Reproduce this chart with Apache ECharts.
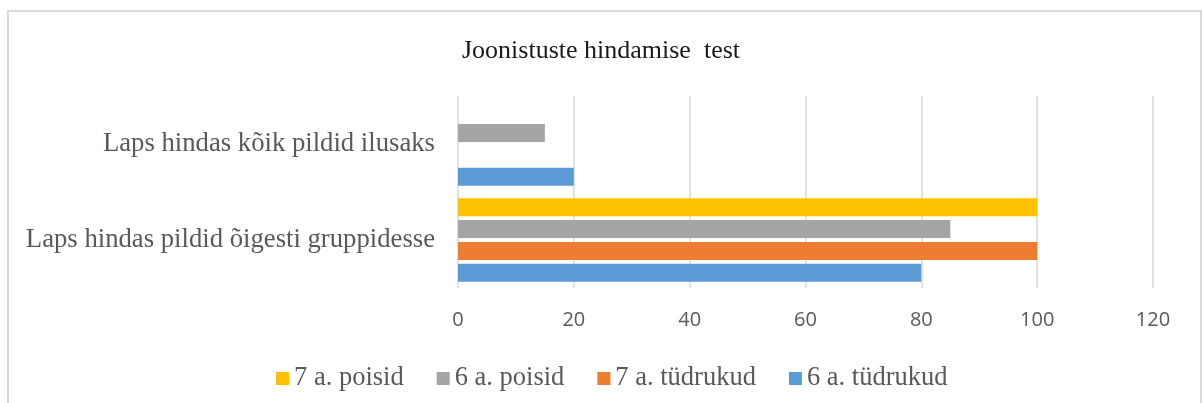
<!DOCTYPE html>
<html>
<head>
<meta charset="utf-8">
<script src="https://cdn.jsdelivr.net/npm/echarts@6/dist/echarts.min.js"></script>
<style>
    html, body { margin: 0; padding: 0; background: #fff; }
    #chart { width: 1202px; height: 403px; }
</style>
</head>
<body>
<div id="chart"></div>
<script>
// Data
const categories = ['Laps hindas pildid õigesti gruppidesse', 'Laps hindas kõik pildid ilusaks'];
const seriesNames = ['7 a. poisid', '6 a. poisid', '7 a. tüdrukud', '6 a. tüdrukud'];
const boys7 = [100, 0];
const boys6 = [85, 15];
const girls7 = [100, 0];
const girls6 = [80, 20];
const xTicks = [0, 20, 40, 60, 80, 100, 120];

const colors = ['#ffc000', '#a5a5a5', '#ed7d31', '#5b9bd5'];
const serif = '"Liberation Serif", "Times New Roman", serif';

const chart = echarts.init(document.getElementById('chart'));

const barBase = {
    type: 'bar',
    barWidth: 18,
    barGap: '21%'
};

const options = {
    backgroundColor: '#fff',
    animation: false,
    color: colors,
    graphic: [
        {
            type: 'rect',
            shape: { x: 8, y: 11, width: 1193, height: 400 },
            style: { fill: 'none', stroke: '#d9d9d9', lineWidth: 2 },
            silent: true
        }
    ],
    title: {
        text: 'Joonistuste hindamise  test',
        left: 'center',
        top: 33,
        textStyle: {
            fontFamily: serif,
            fontSize: 26,
            fontWeight: 'normal',
            color: '#1a1a1a'
        }
    },
    legend: {
        data: seriesNames,
        left: 271,
        top: 360,
        icon: 'rect',
        itemWidth: 13,
        itemHeight: 13,
        itemGap: 33,
        textStyle: {
            fontFamily: serif,
            fontSize: 26.5,
            color: '#595959'
        }
    },
    grid: {
        left: 458,
        right: 49,
        top: 96,
        bottom: 115
    },
    xAxis: {
        type: 'value',
        min: xTicks[0],
        max: xTicks[xTicks.length - 1],
        interval: 20,
        axisLine: { show: false },
        axisTick: { show: false },
        splitLine: {
            show: true,
            lineStyle: { color: '#d9d9d9', width: 1.5 }
        },
        axisLabel: {
            margin: 22,
            fontFamily: '"Open Sans", sans-serif',
            fontSize: 20,
            color: '#595959'
        }
    },
    yAxis: {
        type: 'category',
        data: categories,
        axisLine: { show: false },
        axisTick: { show: false },
        splitLine: { show: false },
        axisLabel: {
            margin: 23,
            fontFamily: serif,
            fontSize: 26.7,
            color: '#595959'
        }
    },
    series: [
        { ...barBase, name: seriesNames[0], data: boys7 },
        { ...barBase, name: seriesNames[1], data: boys6 },
        { ...barBase, name: seriesNames[2], data: girls7 },
        { ...barBase, name: seriesNames[3], data: girls6 }
    ]
};

chart.setOption(options);
</script>
</body>
</html>
